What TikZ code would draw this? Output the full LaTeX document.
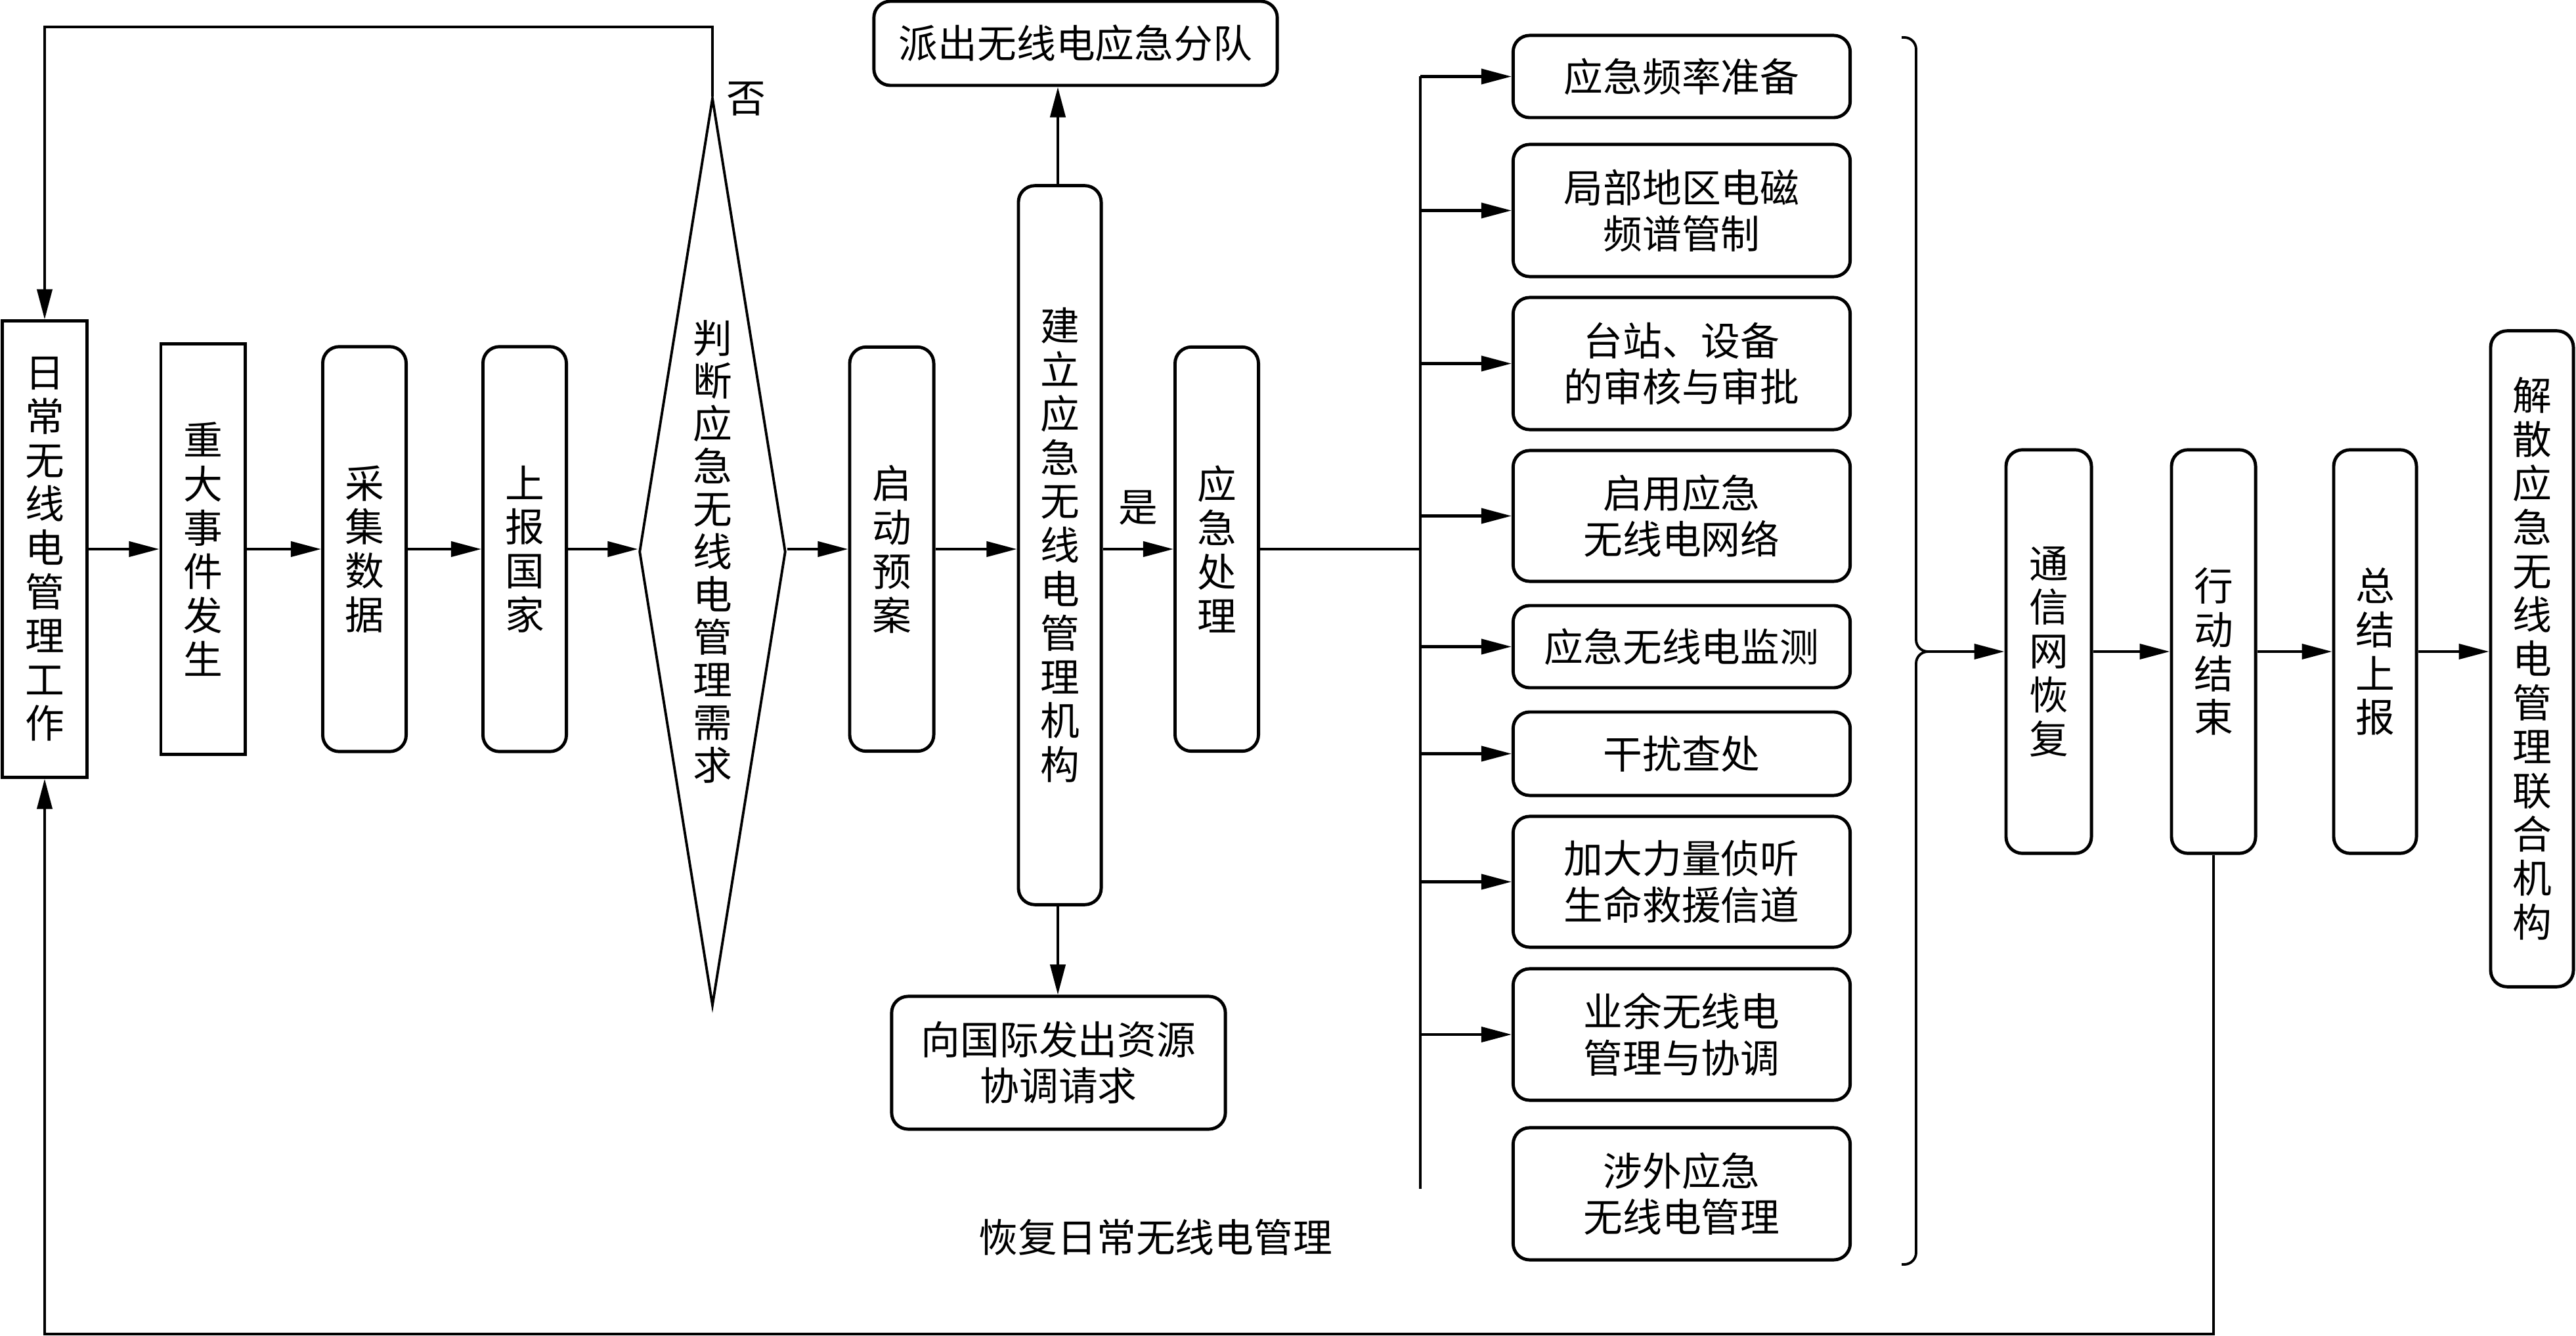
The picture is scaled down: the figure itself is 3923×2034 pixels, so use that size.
\documentclass[tikz,border=0pt]{standalone}
\usepackage{fontspec}
\newfontfamily\cjk{Noto Sans CJK SC}
\usetikzlibrary{arrows.meta,shapes.geometric,calc}
\tikzset{
  base/.style={draw, line width=1.4pt, inner sep=0pt, align=center, font=\cjk\fontsize{17}{19}\selectfont},
  sq/.style={base},
  rbox/.style={base, rounded corners=0.25cm},
  hbox/.style={base, rounded corners=0.25cm, font=\cjk\fontsize{17}{20}\selectfont},
  judgeshape/.style={diamond, shape aspect=0.1615, draw, line width=1.1pt, inner sep=0pt, align=center, font=\cjk\fontsize{17}{18.5}\selectfont},
  lbl/.style={inner sep=0pt, font=\cjk\fontsize{17}{20}\selectfont},
  arr/.style={line width=1.2pt, -{Triangle[length=4.6mm,width=2.3mm]}},
  ln/.style={line width=1.2pt},
  bracestyle/.style={line width=1.1pt, rounded corners=0.18cm},
}
\begin{document}
\begin{tikzpicture}[x=0.01cm,y=-0.01cm]
\useasboundingbox (0,0) rectangle (3923,2034);

% main chain
\node[sq, minimum width=1.29cm, minimum height=6.94cm] (daily) at (68,836) {日\\常\\无\\线\\电\\管\\理\\工\\作};
\node[sq, minimum width=1.28cm, minimum height=6.25cm] (major) at (309,836) {重\\大\\事\\件\\发\\生};
\node[rbox, minimum width=1.27cm, minimum height=6.16cm] (collect) at (555,836) {采\\集\\数\\据};
\node[rbox, minimum width=1.27cm, minimum height=6.16cm] (report) at (799,836) {上\\报\\国\\家};
\node[judgeshape, minimum width=2.23cm, minimum height=13.81cm] (judge) at (1085,840) {判\\断\\应\\急\\无\\线\\电\\管\\理\\需\\求};
\node[rbox, minimum width=1.28cm, minimum height=6.15cm] (start) at (1358,836) {启\\动\\预\\案};
\node[rbox, minimum width=1.26cm, minimum height=10.94cm] (setup) at (1614,830) {建\\立\\应\\急\\无\\线\\电\\管\\理\\机\\构};
\node[rbox, minimum width=1.27cm, minimum height=6.15cm] (handle) at (1853,836) {应\\急\\处\\理};
\node[hbox, minimum width=6.14cm, minimum height=1.28cm] (dispatch) at (1638,66) {派出无线电应急分队};
\node[hbox, minimum width=5.08cm, minimum height=2.02cm] (intl) at (1612,1618) {向国际发出资源\\协调请求};

% branch boxes
\node[hbox, minimum width=5.13cm, minimum height=1.25cm] (b1) at (2561,116.5) {应急频率准备};
\node[hbox, minimum width=5.13cm, minimum height=2.01cm] (b2) at (2561,320.5) {局部地区电磁\\频谱管制};
\node[hbox, minimum width=5.13cm, minimum height=2.01cm] (b3) at (2561,553.5) {台站、设备\\的审核与审批};
\node[hbox, minimum width=5.13cm, minimum height=1.99cm] (b4) at (2561,785.5) {启用应急\\无线电网络};
\node[hbox, minimum width=5.13cm, minimum height=1.25cm] (b5) at (2561,984.5) {应急无线电监测};
\node[hbox, minimum width=5.13cm, minimum height=1.27cm] (b6) at (2561,1147.5) {干扰查处};
\node[hbox, minimum width=5.13cm, minimum height=1.99cm] (b7) at (2561,1342.5) {加大力量侦听\\生命救援信道};
\node[hbox, minimum width=5.13cm, minimum height=2.00cm] (b8) at (2561,1575) {业余无线电\\管理与协调};
\node[hbox, minimum width=5.13cm, minimum height=2.01cm] (b9) at (2561,1817.5) {涉外应急\\无线电管理};

% right chain
\node[rbox, minimum width=1.30cm, minimum height=6.14cm] (comm) at (3120,992) {通\\信\\网\\恢\\复};
\node[rbox, minimum width=1.28cm, minimum height=6.14cm] (act) at (3371,992) {行\\动\\结\\束};
\node[rbox, minimum width=1.26cm, minimum height=6.14cm] (summ) at (3617,992) {总\\结\\上\\报};
\node[rbox, minimum width=1.26cm, minimum height=9.98cm] (disb) at (3856,1003) {解\\散\\应\\急\\无\\线\\电\\管\\理\\联\\合\\机\\构};

% labels
\node[lbl] (no) at (1136,150) {否};
\node[lbl] (restore) at (1760,1884) {恢复日常无线电管理};

% connectors, main chain
\draw[arr] (daily.east) -- (daily.east -| major.west);
\draw[arr] (major.east) -- (collect.west);
\draw[arr] (collect.east) -- (report.west);
\draw[arr] (report.east) -- (report.east -| judge.west);
\draw[arr] (judge.east |- start.west) -- (start.west);
\draw[arr] (start.east) -- (start.east -| setup.west);
\draw[arr] (setup.east |- handle.west) -- (handle.west) node[lbl, midway, above=0.35cm] (yes) {是};
\draw[arr] (setup.north -| 1611,0) -- (dispatch.south -| 1611,0);
\draw[arr] (setup.south -| 1611,0) -- (intl.north -| 1611,0);

% bus
\coordinate (bus) at (2163,1810);
\draw[ln] (handle.east) -- (handle.east -| bus);
\draw[ln] (bus |- b1.west) -- (bus);
\foreach \b in {b1,b2,b3,b4,b5,b6,b7,b8} \draw[arr] (bus |- \b.west) -- (\b.west);

% brace
\coordinate (tip) at (2942,992);
\draw[bracestyle] (2896,57) -- (2918,57) -- (2918,992) -- (tip);
\draw[bracestyle] (tip) -- (2918,992) -- (2918,1925) -- (2896,1925);

% right chain
\draw[arr] (tip) -- (comm.west);
\draw[arr] (comm.east) -- (act.west);
\draw[arr] (act.east) -- (summ.west);
\draw[arr] (summ.east) -- (summ.east -| disb.west);

% feedback loops
\draw[arr] (judge.north) -- ++(0,-106) -| (daily.north);
\draw[arr] (act.south) -- ++(0,729) -| (daily.south);
\end{tikzpicture}
\end{document}
